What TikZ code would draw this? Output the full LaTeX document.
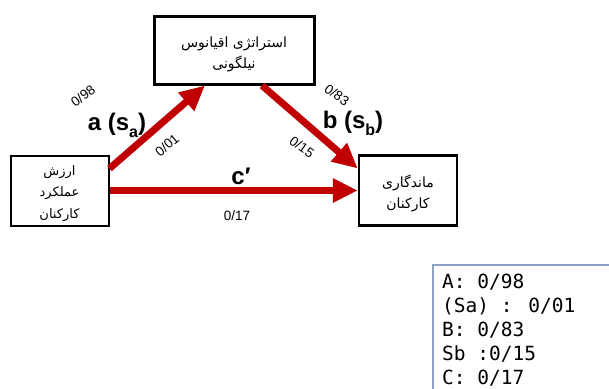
\documentclass[tikz,border=0pt]{standalone}
\usepackage{fontspec}
\setmainfont{Liberation Sans}
\newfontfamily\fafont[Script=Arabic]{DejaVu Sans}
\newfontfamily\legfont{DejaVu Sans Mono}
\TeXXeTstate=1
\usetikzlibrary{arrows.meta,calc}
\definecolor{arrred}{RGB}{192,0,0}
\definecolor{legborder}{RGB}{140,160,200}
\begin{document}
\begin{tikzpicture}[x=1pt,y=-1pt,
  box/.style={draw=black,fill=white,inner sep=0pt},
  boxtext/.style={inner sep=0pt,align=center,font=\fafont\fontsize{14}{21}\selectfont},
  conn/.style={draw=arrred,line width=7pt,-{Triangle[length=25pt,width=23pt]}},
  coef/.style={inner sep=0pt,font=\fontsize{13.5}{15}\selectfont},
  pathlab/.style={inner sep=0pt,font=\bfseries\fontsize{24}{28}\selectfont},
  legbox/.style={draw=legborder,line width=1.5pt,fill=white,inner sep=0pt},
  legtext/.style={inner sep=0pt,align=left,font=\legfont\fontsize{19.5}{24}\selectfont}]
\useasboundingbox (0,0) rectangle (609,388);
\fill[white] (0,0) rectangle (609,388);
% boxes
\node[box,line width=3pt,minimum width=160pt,minimum height=68pt] (T) at (234,50) {};
\node[boxtext] (Tt) at ([yshift=-4pt]T.center)
  {\beginR استراتژی اقیانوس\endR\\\beginR نیلگونی\endR};
\node[box,line width=2pt,minimum width=98pt,minimum height=70pt] (L) at (59.5,190.5) {};
\node[boxtext,font=\fafont\fontsize{13}{21.5}\selectfont] (Lt) at ([yshift=-3pt]L.center)
  {\beginR ارزش\endR\\\beginR عملکرد\endR\\\beginR کارکنان\endR};
\node[box,line width=2.5pt,minimum width=98pt,minimum height=70pt] (R) at (408,190.5) {};
\node[boxtext] (Rt) at ([yshift=-3pt]R.center)
  {\beginR ماندگاری\endR\\\beginR کارکنان\endR};
% connectors
\draw[conn] ([yshift=22pt]L.east) -- ([xshift=-29pt]T.south);
\draw[conn] ([xshift=28pt]T.south) -- ([yshift=22pt]R.west);
\draw[conn] (L.east) -- (R.west);
% labels
\node[coef,rotate=37] (n98) at (83,96) {0/98};
\node[pathlab] (la) at (117,125) {a (s\raisebox{-0.3em}{\fontsize{16}{16}\selectfont a})};
\node[coef,rotate=40] (n01) at (167,145) {0/01};
\node[coef,rotate=-35] (n83) at (337,95) {0/83};
\node[pathlab] (lb) at (353,123) {b (s\raisebox{-0.3em}{\fontsize{16}{16}\selectfont b})};
\node[coef,rotate=-35] (n15) at (302,147) {0/15};
\node[pathlab] (lc) at (241,176) {c′};
\node[coef] (n17) at (237,216) {0/17};
% legend
\node[legbox,anchor=north west,minimum width=190pt,minimum height=140pt] (leg) at (432,264) {};
\node[legtext,anchor=north west] (legt) at (442,274)
  {A: 0/98\\(Sa) : 0/01\\B: 0/83\\Sb :0/15\\C: 0/17};
\end{tikzpicture}
\end{document}
